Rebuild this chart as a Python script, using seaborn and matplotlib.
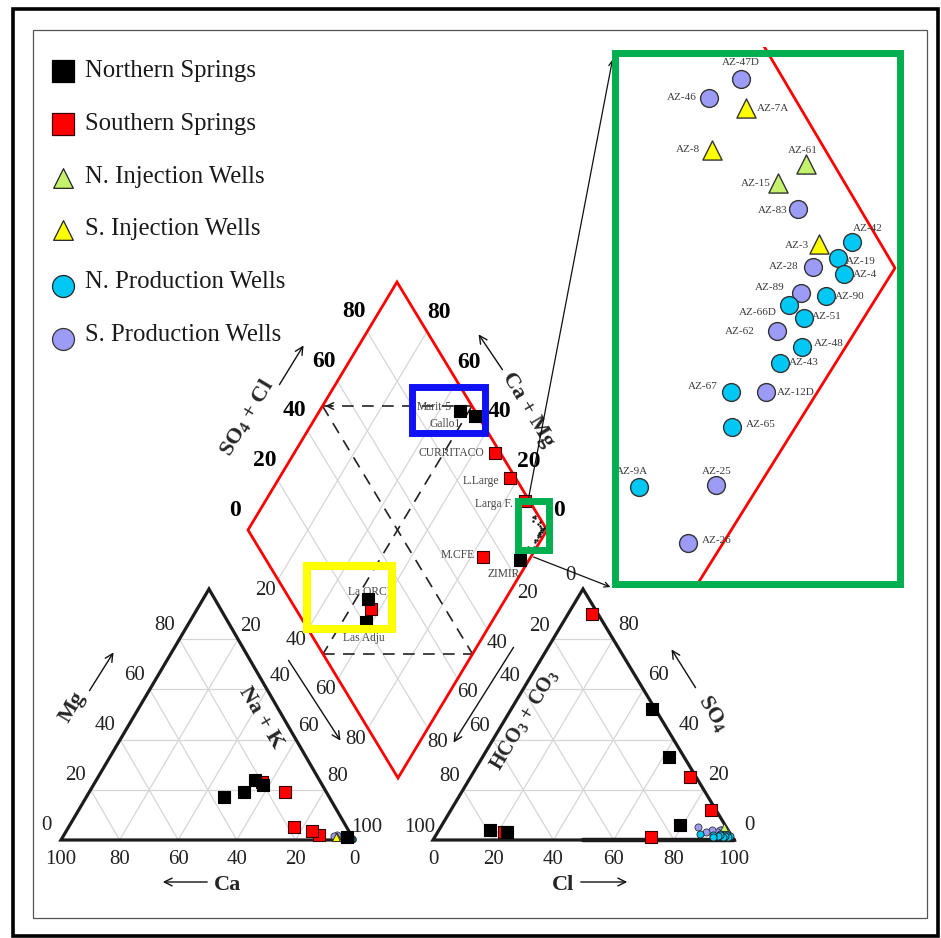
import matplotlib
matplotlib.use("Agg")
import numpy as np
import pandas as pd
import matplotlib.pyplot as plt
from matplotlib.patches import Polygon, Rectangle
import seaborn as sns

sns.set_theme(style="white")
plt.rcParams["font.family"] = ["Liberation Serif", "DejaVu Serif"]
plt.rcParams["mathtext.fontset"] = "custom"
plt.rcParams["mathtext.rm"] = "Liberation Serif"
plt.rcParams["mathtext.bf"] = "Liberation Serif:bold"
plt.rcParams["mathtext.it"] = "Liberation Serif:italic"

# ---------------- spring samples (meq %) ----------------
spring_names = ["Marit-5", "Gallo1", "ZIMIR", "La ORCU", "Las Adju",
                "CURRITACO", "L.Large", "Larga F.", "M.CFE", "La ORCU 2"]
spring_group = ["Northern Springs"] * 5 + ["Southern Springs"] * 5
spring_nak = [47, 53, 97, 54, 58, 67, 77, 87, 84, 57]
spring_ca = [36, 28, 2, 22, 20, 14, 18, 11, 12.5, 20]
spring_so4cl = [95, 99, 85, 26, 21, 98, 98, 98.5, 73, 25]
spring_so4 = [33, 52, 6, 3, 4, 90, 25, 12, 1, 3]

# ---------------- geothermal wells (meq %) ----------------
well_names = ["AZ-47D", "AZ-46", "AZ-7A", "AZ-8", "AZ-61", "AZ-15", "AZ-83", "AZ-3",
              "AZ-42", "AZ-19", "AZ-4", "AZ-28", "AZ-89", "AZ-90", "AZ-66D", "AZ-51",
              "AZ-62", "AZ-48", "AZ-43", "AZ-67", "AZ-12D", "AZ-65", "AZ-9A", "AZ-25", "AZ-26"]
well_group = ["S. Production Wells", "S. Production Wells", "S. Injection Wells", "S. Injection Wells",
              "N. Injection Wells", "N. Injection Wells", "S. Production Wells", "S. Injection Wells",
              "N. Production Wells", "N. Production Wells", "N. Production Wells", "S. Production Wells",
              "S. Production Wells", "N. Production Wells", "N. Production Wells", "N. Production Wells",
              "S. Production Wells", "N. Production Wells", "N. Production Wells", "N. Production Wells",
              "S. Production Wells", "N. Production Wells", "N. Production Wells", "S. Production Wells",
              "S. Production Wells"]
well_nak = [93.1, 92.6, 93.7, 93.5, 96.1, 95.7, 96.6, 97.7, 98.5, 98.4, 98.8, 97.9, 98.0,
            98.7, 97.9, 98.5, 98.0, 98.9, 98.6, 97.8, 98.7, 98.4, 97.0, 98.9, 99.1]
well_ca = [5, 6, 5, 5.5, 2.5, 3, 2.5, 1.5, 0.8, 1, 0.7, 1.2, 1, 0.8, 1.1, 1, 1.2, 0.6, 0.9,
           1.2, 0.8, 1, 1.5, 0.6, 0.5]
well_so4cl = [98.9, 97.8, 98.6, 97.1, 99.3, 98.3, 98.4, 98.4, 99.3, 98.7, 98.6, 97.9, 97.2,
              97.8, 96.7, 96.9, 96.0, 96.4, 95.6, 93.9, 94.8, 93.4, 90.1, 92.1, 90.5]
well_so4 = [3, 4, 2, 2.5, 5, 1.5, 3.5, 2, 1.5, 2, 1, 3, 4, 1.5, 2.5, 1, 3, 2, 1.5, 2, 4, 1,
            2.5, 3, 5]

legend_labels = ["Northern Springs", "Southern Springs", "N. Injection Wells",
                 "S. Injection Wells", "N. Production Wells", "S. Production Wells"]

STYLE = {
    "Northern Springs": dict(marker="s", color="#000000", edge="#000000"),
    "Southern Springs": dict(marker="s", color="#ff0000", edge="#3a0000"),
    "N. Injection Wells": dict(marker="^", color="#c4f26c", edge="#222222"),
    "S. Injection Wells": dict(marker="^", color="#ffff00", edge="#222222"),
    "N. Production Wells": dict(marker="o", color="#00c8f5", edge="#222222"),
    "S. Production Wells": dict(marker="o", color="#9c9cf6", edge="#333333"),
}

# ---------------- diagram geometry (figure pixels) ----------------
CAT_BL, CAT_BR, CAT_T = np.array([61, 840.]), np.array([354, 840.]), np.array([209, 589.])
AN_BL, AN_BR, AN_T = np.array([433, 840.]), np.array([734, 840.]), np.array([583, 589.])
D_L, D_T, D_B = np.array([248, 530.]), np.array([397, 282.]), np.array([398, 778.])
D_R = D_T + D_B - D_L
INS_R = np.array([895, 268.])
INS_EU = np.array([-20.0, 32.0])
INS_EW = np.array([-19.2, -32.5])


def cation_xy(mg, nak):
    return CAT_BL + np.outer(np.asarray(nak) / 100, CAT_BR - CAT_BL).squeeze() \
        + np.outer(np.asarray(mg) / 100, CAT_T - CAT_BL).squeeze()


def anion_xy(so4, cl):
    return AN_BL + np.outer(np.asarray(cl) / 100, AN_BR - AN_BL).squeeze() \
        + np.outer(np.asarray(so4) / 100, AN_T - AN_BL).squeeze()


def diamond_xy(so4cl, nak):
    return D_L + np.outer(np.asarray(so4cl) / 100, D_T - D_L).squeeze() \
        + np.outer(np.asarray(nak) / 100, D_B - D_L).squeeze()


def inset_xy(so4cl, nak):
    return INS_R + np.outer(100 - np.asarray(so4cl), INS_EU).squeeze() \
        + np.outer(100 - np.asarray(nak), INS_EW).squeeze()


def frame(df):
    df["mg"] = 100 - df["nak"] - df["ca"]
    df["cl"] = df["so4cl"] - df["so4"]
    df[["cx", "cy"]] = cation_xy(df["mg"].values, df["nak"].values)
    df[["ax_", "ay"]] = anion_xy(df["so4"].values, df["cl"].values)
    df[["dx", "dy"]] = diamond_xy(df["so4cl"].values, df["nak"].values)
    df[["ix", "iy"]] = inset_xy(df["so4cl"].values, df["nak"].values)
    return df


springs = frame(pd.DataFrame({"name": spring_names, "group": spring_group, "nak": spring_nak,
                              "ca": spring_ca, "so4cl": spring_so4cl, "so4": spring_so4}))
wells = frame(pd.DataFrame({"name": well_names, "group": well_group, "nak": well_nak,
                            "ca": well_ca, "so4cl": well_so4cl, "so4": well_so4}))

fig = plt.figure(figsize=(9.41, 9.38), dpi=100)
ax = fig.add_axes([0, 0, 1, 1])

GRID = dict(color="#d6d6d6", lw=0.9, zorder=1)
levels = [20, 40, 60, 80]


def seg(p, q, **kw):
    ax.plot([p[0], q[0]], [p[1], q[1]], **kw)


# grids of the two triangles and the diamond
for v in levels:
    seg(cation_xy(v, 0), cation_xy(v, 100 - v), **GRID)
    seg(cation_xy(0, v), cation_xy(100 - v, v), **GRID)
    seg(cation_xy(100 - v, 0), cation_xy(0, 100 - v), **GRID)
    seg(anion_xy(v, 0), anion_xy(v, 100 - v), **GRID)
    seg(anion_xy(0, v), anion_xy(100 - v, v), **GRID)
    seg(anion_xy(100 - v, 0), anion_xy(0, 100 - v), **GRID)
    seg(diamond_xy(v, 0), diamond_xy(v, 100), **GRID)
    seg(diamond_xy(0, v), diamond_xy(100, v), **GRID)

for tri in [(CAT_BL, CAT_BR, CAT_T), (AN_BL, AN_BR, AN_T)]:
    ax.add_patch(Polygon(np.array(tri), closed=True, fill=False, ec="#1c1c1c", lw=2.3,
                         joinstyle="miter", zorder=3))
seg(anion_xy(0, 50), AN_BR, color="#1c1c1c", lw=3.2, zorder=3)
ax.add_patch(Polygon(np.array([D_L, D_T, D_R, D_B]), closed=True, fill=False, ec="#ff0000",
                     lw=2.0, joinstyle="miter", zorder=3))

# hydrochemical facies subdivisions
m_ul, m_ur = diamond_xy(50, 0), diamond_xy(100, 50)
m_ll, m_lr = diamond_xy(0, 50), diamond_xy(50, 100)
DASH = dict(color="#222222", lw=1.2, dashes=(7, 5), zorder=2)
for p, q in [(m_ul, m_ur), (m_ll, m_lr), (m_ul, m_lr), (m_ur, m_ll)]:
    seg(p, q, **DASH)
ax.annotate("", xy=m_ul, xytext=(m_ul[0] + 12, m_ul[1]),
            arrowprops=dict(arrowstyle="->", lw=1.1, color="#222222"))

# ---------------- data points ----------------
SPRING_ORDER = ["Southern Springs", "Northern Springs"]


def scatter(df, x, y, size, lw=0.8, z=5, order=None):
    groups = order if order is not None else list(dict.fromkeys(df["group"]))
    for g in groups:
        sub = df[df["group"] == g]
        st = STYLE[g]
        sns.scatterplot(data=sub, x=x, y=y, marker=st["marker"], s=size[st["marker"]],
                        color=st["color"], edgecolor=st["edge"], linewidth=lw,
                        ax=ax, legend=False, zorder=z)


tri_sizes = {"s": 80, "o": 26, "^": 34}
scatter(wells, "cx", "cy", tri_sizes, lw=0.6)
scatter(wells, "ax_", "ay", tri_sizes, lw=0.6)
scatter(springs, "cx", "cy", tri_sizes, lw=0.8, z=6, order=SPRING_ORDER)
scatter(springs, "ax_", "ay", tri_sizes, lw=0.8, z=6, order=SPRING_ORDER)
scatter(springs, "dx", "dy", {"s": 78}, lw=0.8, z=6, order=SPRING_ORDER)
sns.scatterplot(data=wells, x="dx", y="dy", s=3, color="#111111", linewidth=0,
                ax=ax, legend=False, zorder=6)

spring_label_off = {
    "Marit-5": (-8, -4, "right"), "Gallo1": (-30, 8, "center"), "ZIMIR": (-17, 14, "center"),
    "La ORCU": (4, -7, "center"), "Las Adju": (-2, 16, "center"), "CURRITACO": (-10, 0, "right"),
    "L.Large": (-10, 3, "right"), "Larga F.": (-12, 3, "right"), "M.CFE": (-8, -2, "right"),
}
for _, r in springs.iterrows():
    if r["name"] in spring_label_off:
        ox, oy, ha = spring_label_off[r["name"]]
        ax.text(r["dx"] + ox, r["dy"] + oy, r["name"], fontsize=8.3, color="#444444",
                ha=ha, va="center", zorder=5.5)

# ---------------- tick labels ----------------
TICK = dict(fontsize=15, color="#222222", ha="center", va="center")
BOLD = dict(fontsize=17, color="#000000", ha="center", va="center", fontweight="bold")
for v in [100, 80, 60, 40, 20, 0]:
    p = cation_xy(0, 100 - v)
    ax.text(p[0], p[1] + 19, str(v), **TICK)
for v in [0, 20, 40, 60, 80]:
    p = cation_xy(v, 0)
    ax.text(p[0] - 15, p[1] - 14, str(v), **TICK)
for v in [20, 40, 60, 80, 100]:
    p = cation_xy(100 - v, v)
    ax.text(p[0] + 13, p[1] - 13, str(v), **TICK)
for v in [0, 20, 40, 60, 80, 100]:
    p = anion_xy(0, v)
    ax.text(p[0], p[1] + 19, str(v), **TICK)
for v in [0, 20, 40, 60, 80, 100]:
    p = anion_xy(100 - v, 0)
    ax.text(p[0] - 13, p[1] - 13, str(v), **TICK)
for v in [0, 20, 40, 60, 80]:
    p = anion_xy(v, 100 - v)
    ax.text(p[0] + 15, p[1] - 14, str(v), **TICK)
for v in [0, 20, 40, 60, 80]:
    p = diamond_xy(v, 0)
    ax.text(p[0] - 13, p[1] - 20, str(v), **BOLD)
    p = diamond_xy(100, 100 - v)
    ax.text(p[0] + 12, p[1] - 19, str(v), **BOLD)
for v in levels:
    p = diamond_xy(0, v)
    ax.text(p[0] - 12, p[1] + 11, str(v), **TICK)
    p = diamond_xy(100 - v, 100)
    ax.text(p[0] + 10, p[1] + 14, str(v), **TICK)

# ---------------- axis titles and arrows ----------------
TITLE = dict(fontsize=16, fontweight="bold", ha="center", va="center", rotation_mode="anchor")
ARROW = dict(arrowstyle="->", lw=1.0, color="#111111", mutation_scale=14)
ax.text(247, 418, r"$\mathbf{SO_4}$ + Cl", rotation=59, **TITLE)
ax.annotate("", xy=(305, 343), xytext=(278, 387), arrowprops=ARROW)
ax.text(528, 410, "Ca + Mg", rotation=-59, **TITLE)
ax.annotate("", xy=(477, 332), xytext=(504, 372), arrowprops=ARROW)
ax.text(72, 707, "Mg", rotation=59, **TITLE)
ax.annotate("", xy=(115, 650), xytext=(88, 693), arrowprops=ARROW)
ax.text(261, 718, "Na + K", rotation=-59, **TITLE)
ax.annotate("", xy=(342, 743), xytext=(287, 658), arrowprops=ARROW)
ax.text(228, 885, "Ca", **TITLE)
ax.annotate("", xy=(160, 882), xytext=(210, 882), arrowprops=ARROW)
ax.text(524, 720, r"$\mathbf{HCO_3}$ + $\mathbf{CO_3}$", rotation=59,
        **{**TITLE, "fontsize": 14.5})
ax.annotate("", xy=(452, 745), xytext=(515, 645), arrowprops=ARROW)
ax.text(713, 713, r"$\mathbf{SO_4}$", rotation=-59, **TITLE)
ax.annotate("", xy=(670, 647), xytext=(697, 690), arrowprops=ARROW)
ax.text(563, 885, "Cl", **TITLE)
ax.annotate("", xy=(630, 882), xytext=(578, 882), arrowprops=ARROW)

# ---------------- legend ----------------
leg_y = [71, 124, 177, 229, 282, 335]
leg_marker_dy = {"s": 0, "^": 1, "o": 4}
leg_sizes = {"s": 270, "^": 200, "o": 250}
for lab, yy in zip(legend_labels, leg_y):
    st = STYLE[lab]
    ax.scatter([63], [yy + leg_marker_dy[st["marker"]]], marker=st["marker"],
               s=leg_sizes[st["marker"]], color=st["color"], edgecolor=st["edge"],
               linewidth=0.9, zorder=6)
    ax.text(85, yy, lab, fontsize=17.8, color="#1a1a1a", ha="left", va="center")

# ---------------- highlight boxes ----------------
ax.add_patch(Rectangle((412.5, 387.5), 73, 46, fill=False, ec="#0f12f5", lw=5, zorder=8))
ax.add_patch(Rectangle((307, 566), 85, 63, fill=False, ec="#ffff00", lw=5.8, zorder=8))
ax.add_patch(Rectangle((521.5, 504.5), 31, 49, fill=False, ec="#9a9a9a", lw=1.2, zorder=8))
ax.add_patch(Rectangle((518.5, 501.5), 31, 49, fill=False, ec="#00b050", lw=5, zorder=8))

# connectors to the enlarged view
CONN = dict(arrowstyle="->", lw=0.9, color="#111111", mutation_scale=9)
ax.annotate("", xy=(613, 57), xytext=(528, 501), arrowprops=CONN, zorder=7)
ax.annotate("", xy=(613, 588), xytext=(531, 556), arrowprops=CONN, zorder=7)

# ---------------- enlarged view around the Na+K / SO4+Cl corner ----------------
box_x0, box_y0, box_x1, box_y1 = 615.5, 53.5, 900.5, 584.5
ax.add_patch(Rectangle((box_x0, box_y0), box_x1 - box_x0, box_y1 - box_y0,
                       fc="white", ec="none", zorder=9))
clip = Rectangle((box_x0, box_y0 - 6), box_x1 - box_x0, box_y1 - box_y0 + 6,
                 transform=ax.transData)
ln, = ax.plot(*np.array([inset_xy(100, 88), inset_xy(100, 100), inset_xy(85, 100)]).T,
              color="#ff0000", lw=2.0, zorder=10)
ln.set_clip_path(clip)
ins_sizes = {"o": 165, "^": 190}
for g in list(dict.fromkeys(wells["group"])):
    sub = wells[wells["group"] == g]
    st = STYLE[g]
    sns.scatterplot(data=sub, x="ix", y="iy", marker=st["marker"], s=ins_sizes[st["marker"]],
                    color=st["color"], edgecolor="#333333", linewidth=1.0,
                    ax=ax, legend=False, zorder=11)

well_label_off = {
    "AZ-47D": (0, -16, "center"), "AZ-46": (-12, 0, "right"), "AZ-7A": (11, 0, "left"),
    "AZ-8": (-12, 0, "right"), "AZ-61": (-3, -13, "center"), "AZ-15": (-8, 1, "right"),
    "AZ-83": (-10, 2, "right"), "AZ-3": (-10, 1, "right"), "AZ-42": (1, -13, "left"),
    "AZ-19": (8, 4, "left"), "AZ-4": (9, 1, "left"), "AZ-28": (-14, 0, "right"),
    "AZ-89": (-16, -5, "right"), "AZ-90": (9, 0, "left"), "AZ-66D": (-12, 7, "right"),
    "AZ-51": (8, -2, "left"), "AZ-62": (-22, 1, "right"), "AZ-48": (12, -4, "left"),
    "AZ-43": (9, -1, "left"), "AZ-67": (-13, -5, "right"), "AZ-12D": (11, 0, "left"),
    "AZ-65": (14, -3, "left"), "AZ-9A": (-7, -16, "center"), "AZ-25": (1, -14, "center"),
    "AZ-26": (14, -2, "left"),
}
for _, r in wells.iterrows():
    ox, oy, ha = well_label_off[r["name"]]
    ax.text(r["ix"] + ox, r["iy"] + oy, r["name"], fontsize=8, color="#3a3a3a",
            ha=ha, va="center", zorder=12)

ax.add_patch(Rectangle((box_x0 + 3, box_y0 + 3), box_x1 - box_x0, box_y1 - box_y0,
                       fill=False, ec="#9a9a9a", lw=1.2, zorder=12))
ax.add_patch(Rectangle((box_x0, box_y0), box_x1 - box_x0, box_y1 - box_y0,
                       fill=False, ec="#00b050", lw=5, zorder=13))

# ---------------- page frames ----------------
ax.add_patch(Rectangle((33, 30), 894, 888, fill=False, ec="#555555", lw=0.9, zorder=0))
ax.add_patch(Rectangle((13, 9), 925, 927, fill=False, ec="#000000", lw=2.6, zorder=14))

ax.set_xlim(0, 941)
ax.set_ylim(938, 0)
ax.axis("off")
fig.savefig("out.png", dpi=100)
